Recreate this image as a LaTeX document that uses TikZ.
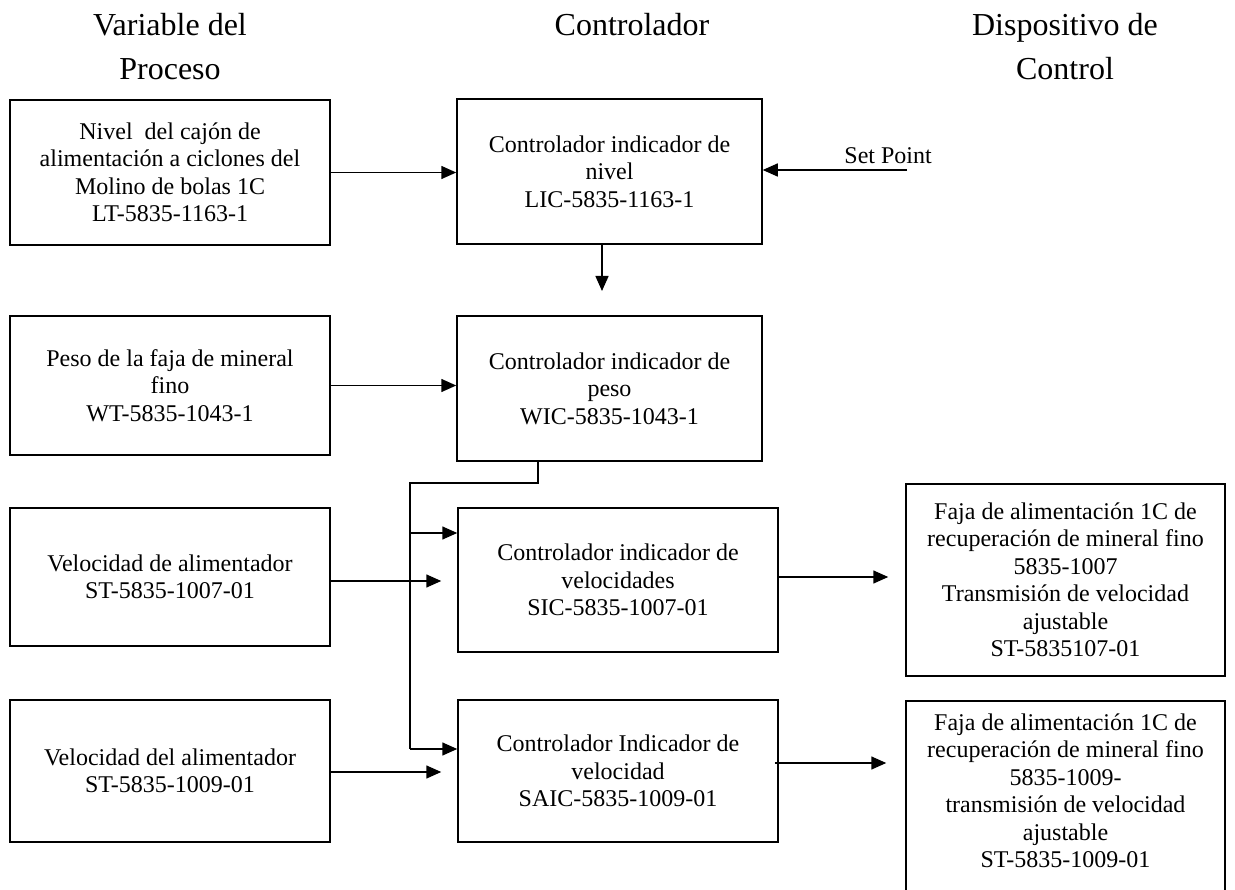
\documentclass[tikz,border=0pt]{standalone}
\usepackage{fontspec}
\setmainfont{Liberation Serif}
\usetikzlibrary{arrows.meta,calc}

\tikzset{
  box/.style={draw, line width=1.5pt, align=center, inner sep=0pt,
              font=\fontsize{24}{27.5}\selectfont},
  head/.style={anchor=base, inner sep=0pt, font=\fontsize{32}{43}\selectfont},
  wire/.style={line width=1.5pt},
  arr/.style={wire, -{Triangle[length=15pt,width=13pt]}},
}

\begin{document}
\begin{tikzpicture}[x=1pt,y=-1pt]
\clip (0,0) rectangle (1235,890);
\fill[white] (0,0) rectangle (1235,890);

% column headings
\node[head] (h1a) at (170,36) {Variable del};
\node[head] (h1b) at (170,80) {Proceso};
\node[head] (h2)  at (632,36) {Controlador};
\node[head] (h3a) at (1065,36) {Dispositivo de};
\node[head] (h3b) at (1065,80) {Control};

% process variables
\node[box, minimum width=320pt, minimum height=145pt] (lb1) at (170,172.5)
  {Nivel\ \ del cajón de\\alimentación a ciclones del\\Molino de bolas 1C\\LT-5835-1163-1};
\node[box, minimum width=320pt, minimum height=139pt] (lb2) at (170,385.5)
  {Peso de la faja de mineral\\fino\\WT-5835-1043-1};
\node[box, minimum width=320pt, minimum height=138pt] (lb3) at (170,577)
  {Velocidad de alimentador\\ST-5835-1007-01};
\node[box, minimum width=320pt, minimum height=142pt] (lb4) at (170,771)
  {Velocidad del alimentador\\ST-5835-1009-01};

% controllers
\node[box, minimum width=305pt, minimum height=145pt] (mb1) at (609.5,171.5)
  {Controlador indicador de\\nivel\\LIC-5835-1163-1};
\node[box, minimum width=305pt, minimum height=145pt] (mb2) at (609.5,388.5)
  {Controlador indicador de\\peso\\WIC-5835-1043-1};
\node[box, minimum width=320pt, minimum height=144pt] (mb3) at (618,580)
  {Controlador indicador de\\velocidades\\SIC-5835-1007-01};
\node[box, minimum width=320pt, minimum height=142pt] (mb4) at (618,771)
  {Controlador Indicador de\\velocidad\\SAIC-5835-1009-01};

% control devices
\node[box, minimum width=319pt, minimum height=192pt] (rb1) at (1065.5,580)
  {Faja de alimentación 1C de\\recuperación de mineral fino\\5835-1007\\Transmisión de velocidad\\ajustable\\ST-5835107-01};
\node[box, minimum width=319pt, minimum height=194pt] (rb2) at (1065.5,798) {};
\node[align=center, inner sep=0pt, font=\fontsize{24}{27.5}\selectfont] (rb2t) at (1065.5,791)
  {Faja de alimentación 1C de\\recuperación de mineral fino\\5835-1009-\\transmisión de velocidad\\ajustable\\ST-5835-1009-01};

% set point
\coordinate (sp) at (907,170);
\draw[arr] (sp) -- (sp -| mb1.east);
\node[anchor=base east, inner sep=0pt, font=\fontsize{24}{27.5}\selectfont] (splbl) at (932,164) {Set Point};

% signal connectors
\draw[arr] (lb1.east) -- (lb1.east -| mb1.west);
\draw[arr] (lb2.east) -- (lb2.east -| mb2.west);
\coordinate (dn) at (602,291);
\draw[arr] (mb1.south -| dn) -- (dn);

\coordinate (a3) at ([yshift=-4pt]lb3.east);
\draw[arr, shorten >=16pt] (a3) -- (a3 -| mb3.west);
\coordinate (a4) at ([yshift=-1pt]lb4.east);
\draw[arr, shorten >=16pt] (a4) -- (a4 -| mb4.west);

% branch from the weight controller
\coordinate (bend) at (538,483);
\coordinate (bus) at (410,483);
\coordinate (b3) at (410,533);
\coordinate (b4) at (410,749);
\draw[wire] (mb2.south -| bend) -- (bend) -- (bus) -- (b4);
\draw[arr] (b3) -- (b3 -| mb3.west);
\draw[arr] (b4) -- (b4 -| mb4.west);

% outputs to the drives
\coordinate (o3) at ([yshift=3pt]mb3.east);
\draw[arr, shorten >=17pt] (o3) -- (o3 -| rb1.west);
\coordinate (o4) at ([xshift=-4pt,yshift=8pt]mb4.east);
\draw[arr, shorten >=19pt] (o4) -- (o4 -| rb2.west);
\end{tikzpicture}
\end{document}
